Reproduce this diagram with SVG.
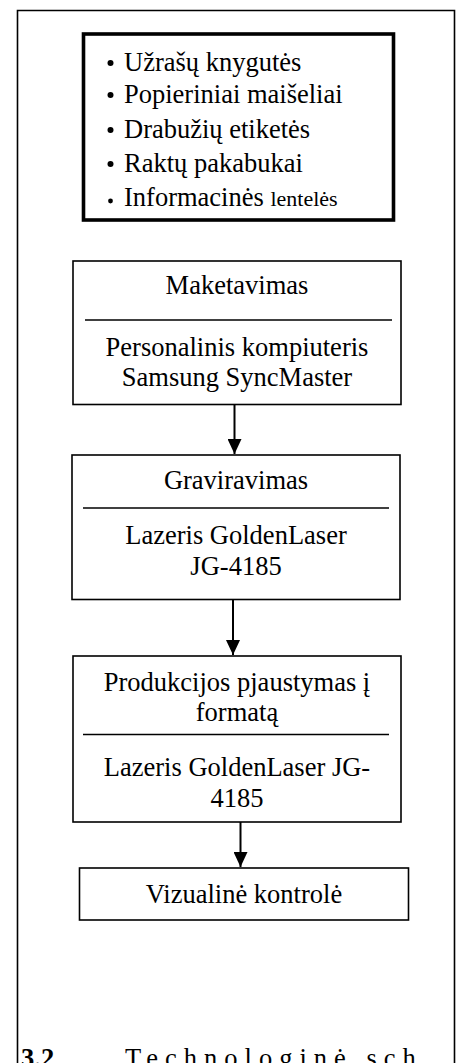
<svg xmlns="http://www.w3.org/2000/svg" width="463" height="1063" viewBox="0 0 463 1063">
<style>
text{font-family:"Liberation Serif","Times New Roman",serif;fill:#000;font-size:26.5px}
.c{text-anchor:middle}
.box{fill:#fff;stroke:#000;stroke-width:1.6}
.sep{stroke:#000;stroke-width:1.6}
.con{stroke:#000;stroke-width:2;fill:none}
</style>
<defs>
<marker id="ah" markerWidth="16" markerHeight="14" refX="15" refY="7" orient="auto" markerUnits="userSpaceOnUse" viewBox="0 0 16 14">
<path d="M0,0 L15,7 L0,14 Z" fill="#000"/>
</marker>
</defs>
<rect width="463" height="1063" fill="#fff"/>
<g id="frame">
<path d="M17.5,1070 V10.5 H454.5 V1070" fill="none" stroke="#000" stroke-width="1.6"/>
</g>
<g id="products">
<rect x="83.5" y="34" width="310" height="186" fill="#fff" stroke="#000" stroke-width="3.6"/>
<circle cx="110.5" cy="63" r="3"/>
<text x="124" y="71">Užrašų knygutės</text>
<circle cx="110.5" cy="95" r="3"/>
<text x="124" y="103">Popieriniai maišeliai</text>
<circle cx="110.5" cy="130" r="3"/>
<text x="124" y="138">Drabužių etiketės</text>
<circle cx="110.5" cy="164" r="3"/>
<text x="124" y="172">Raktų pakabukai</text>
<circle cx="110.5" cy="201" r="2.4"/>
<text x="124" y="206">Informacinės <tspan font-size="22">lentelės</tspan></text>
</g>
<g id="maketavimas">
<rect class="box" x="73" y="261" width="328" height="143.5"/>
<line class="sep" x1="85" y1="320" x2="392" y2="320"/>
<text class="c" x="237" y="294">Maketavimas</text>
<text class="c" x="237" y="356">Personalinis kompiuteris</text>
<text class="c" x="237" y="386">Samsung SyncMaster</text>
</g>
<g id="graviravimas">
<rect class="box" x="72" y="455" width="328" height="144.5"/>
<line class="sep" x1="83" y1="508" x2="389" y2="508"/>
<text class="c" x="236" y="489">Graviravimas</text>
<text class="c" x="236" y="544">Lazeris GoldenLaser</text>
<text class="c" x="236" y="575">JG-4185</text>
</g>
<g id="pjaustymas">
<rect class="box" x="73" y="656" width="328" height="166"/>
<line class="sep" x1="83" y1="734.5" x2="389" y2="734.5"/>
<text class="c" x="237" y="691">Produkcijos pjaustymas į</text>
<text class="c" x="237" y="721">formatą</text>
<text class="c" x="237" y="776">Lazeris GoldenLaser JG-</text>
<text class="c" x="237" y="807">4185</text>
</g>
<g id="kontrole">
<rect class="box" x="79.5" y="868" width="329" height="52"/>
<text class="c" x="244" y="903">Vizualinė kontrolė</text>
</g>
<g id="connectors">
<line class="con" x1="234.5" y1="405" x2="234.5" y2="454" marker-end="url(#ah)"/>
<line class="con" x1="233" y1="600" x2="233" y2="655" marker-end="url(#ah)"/>
<line class="con" x1="240.5" y1="822" x2="240.5" y2="867" marker-end="url(#ah)"/>
</g>
<g id="caption">
<text x="21" y="1067" font-weight="bold">3.2</text>
<text x="125" y="1067" letter-spacing="7">Technologinė sch</text>
</g>
</svg>
